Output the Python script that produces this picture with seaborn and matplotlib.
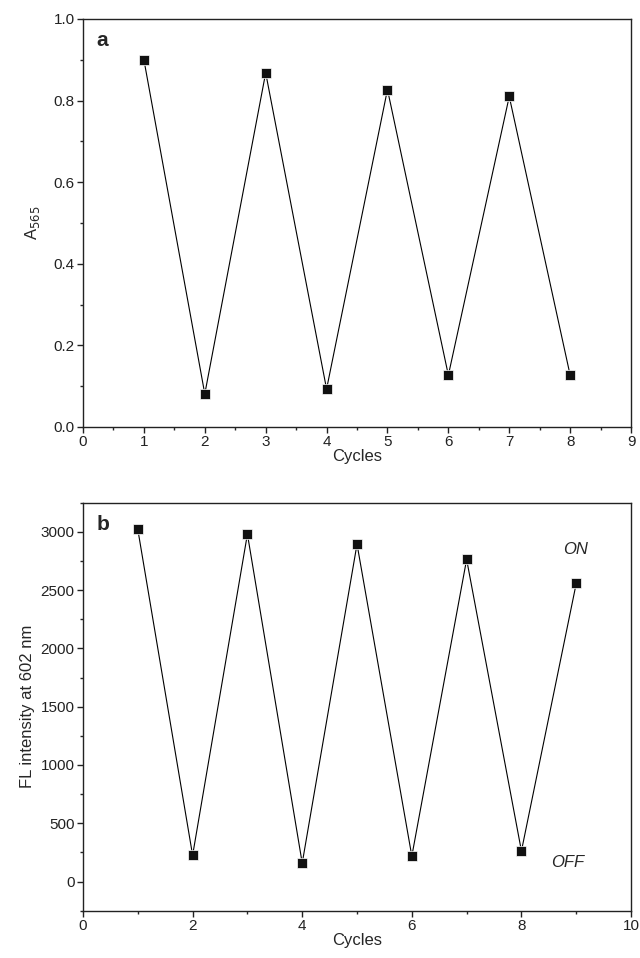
import matplotlib
matplotlib.use("Agg")
import matplotlib.pyplot as plt
import seaborn as sns
import pandas as pd
from matplotlib.ticker import MultipleLocator

sns.set_theme(style="ticks")
plt.rcParams['font.family'] = ['Liberation Sans', 'DejaVu Sans']

cycles_a = [1, 2, 3, 4, 5, 6, 7, 8]
absorb_a = [0.90, 0.081, 0.868, 0.093, 0.827, 0.127, 0.81, 0.127]

cycles_b = [1, 2, 3, 4, 5, 6, 7, 8, 9]
fl_b = [3020, 225, 2980, 158, 2894, 218, 2763, 262, 2557]

df_a = pd.DataFrame({"Cycles": cycles_a, "A": absorb_a})
df_b = pd.DataFrame({"Cycles": cycles_b, "FL": fl_b})

fig = plt.figure(figsize=(6.4, 9.58), dpi=100)
ax1 = fig.add_axes([0.1297, 0.5543, 0.8563, 0.4259])
ax2 = fig.add_axes([0.1297, 0.0494, 0.8563, 0.4259])

for ax, df, ycol in [(ax1, df_a, "A"), (ax2, df_b, "FL")]:
    sns.lineplot(data=df, x="Cycles", y=ycol, ax=ax, color="black", lw=0.8,
                 marker="s", markersize=7, markeredgecolor="white",
                 markeredgewidth=0.5, markerfacecolor="#111111")
    for s in ax.spines.values():
        s.set_linewidth(1.0)
        s.set_color("#222222")
    ax.tick_params(axis="both", which="major", direction="out", length=4,
                   width=1, labelsize=11, colors="#222222", pad=2,
                   top=False, right=False)
    ax.tick_params(axis="both", which="minor", direction="out", length=2.5,
                   width=1, top=False, right=False)
    ax.set_xlabel("Cycles", fontsize=12, labelpad=0)

ax1.set_xlim(0, 9)
ax1.set_ylim(0, 1.0)
ax1.xaxis.set_major_locator(MultipleLocator(1))
ax1.xaxis.set_minor_locator(MultipleLocator(0.5))
ax1.yaxis.set_major_locator(MultipleLocator(0.2))
ax1.yaxis.set_minor_locator(MultipleLocator(0.1))
ax1.yaxis.set_major_formatter(matplotlib.ticker.FormatStrFormatter("%.1f"))
ax1.set_ylabel(r"A$_{565}$", fontsize=12, labelpad=8)
ax1.text(0.025, 0.97, "a", transform=ax1.transAxes, fontsize=15,
         fontweight="bold", va="top", ha="left")

ax2.set_xlim(0, 10)
ax2.set_ylim(-250, 3250)
ax2.xaxis.set_major_locator(MultipleLocator(2))
ax2.xaxis.set_minor_locator(MultipleLocator(1))
ax2.yaxis.set_major_locator(MultipleLocator(500))
ax2.yaxis.set_minor_locator(MultipleLocator(250))
ax2.set_ylabel("FL intensity at 602 nm", fontsize=12, labelpad=4)
ax2.text(0.025, 0.97, "b", transform=ax2.transAxes, fontsize=15,
         fontweight="bold", va="top", ha="left")
ax2.text(8.98, 2850, "ON", fontsize=12, style="italic", ha="center", va="center")
ax2.text(8.85, 160, "OFF", fontsize=12, style="italic", ha="center", va="center")

fig.savefig("out.png", dpi=100)
